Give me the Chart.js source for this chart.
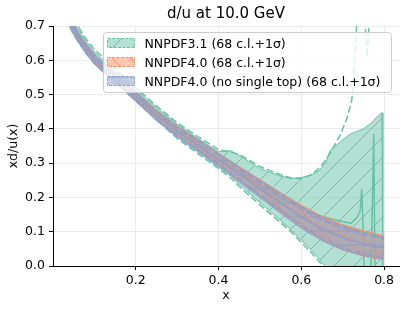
<!DOCTYPE html>
<html>
<head>
<meta charset="utf-8">
<script src="https://cdn.jsdelivr.net/npm/chart.js@4.4.1/dist/chart.umd.min.js"></script>
<style>
  html, body { margin: 0; padding: 0; background: #fff; }
  #wrap { width: 407px; height: 311px; }
</style>
</head>
<body>
<div id="wrap"><canvas id="duChart" width="407" height="311"></canvas></div>
<script>
// valeurs
const chartTitle = "d/u at 10.0 GeV";
const seriesNames = ["NNPDF3.1 (68 c.l.+1σ)", "NNPDF4.0 (68 c.l.+1σ)", "NNPDF4.0 (no single top) (68 c.l.+1σ)"];
const xTicks = [0.2, 0.4, 0.6, 0.8];
const yTicks = [0.0, 0.1, 0.2, 0.3, 0.4, 0.5, 0.6, 0.7];

// grille commune NNPDF4.0
const xGrid = [0.03, 0.04, 0.05, 0.06, 0.08, 0.10, 0.125, 0.15, 0.175, 0.20, 0.25, 0.30, 0.35, 0.40, 0.45, 0.50, 0.55, 0.60, 0.65, 0.70, 0.75, 0.78, 0.80];

const nn40Central = [0.745, 0.718, 0.693, 0.672, 0.636, 0.606, 0.577, 0.551, 0.524, 0.497, 0.442, 0.395, 0.354, 0.312, 0.270, 0.228, 0.186, 0.145, 0.110, 0.084, 0.066, 0.058, 0.053];
const nn40Upper = [0.757, 0.730, 0.705, 0.684, 0.648, 0.618, 0.589, 0.563, 0.536, 0.509, 0.455, 0.409, 0.369, 0.329, 0.290, 0.252, 0.214, 0.177, 0.145, 0.121, 0.103, 0.094, 0.088];
const nn40Lower = [0.733, 0.706, 0.681, 0.660, 0.624, 0.594, 0.565, 0.539, 0.512, 0.485, 0.429, 0.381, 0.339, 0.295, 0.250, 0.204, 0.158, 0.113, 0.075, 0.047, 0.029, 0.022, 0.018];
const nn40SigUp = [0.754, 0.727, 0.702, 0.681, 0.645, 0.615, 0.586, 0.560, 0.533, 0.506, 0.452, 0.406, 0.366, 0.325, 0.286, 0.247, 0.208, 0.170, 0.138, 0.114, 0.096, 0.088, 0.082];
const nn40SigLow = [0.736, 0.709, 0.684, 0.663, 0.627, 0.597, 0.568, 0.542, 0.515, 0.488, 0.432, 0.384, 0.342, 0.299, 0.254, 0.209, 0.164, 0.120, 0.082, 0.054, 0.036, 0.028, 0.024];

const nstCentral = [0.742, 0.715, 0.690, 0.669, 0.633, 0.603, 0.574, 0.548, 0.521, 0.494, 0.439, 0.392, 0.351, 0.309, 0.267, 0.225, 0.183, 0.142, 0.108, 0.082, 0.064, 0.057, 0.054];
const nstUpper = [0.756, 0.729, 0.704, 0.683, 0.647, 0.617, 0.588, 0.562, 0.535, 0.508, 0.454, 0.408, 0.368, 0.328, 0.289, 0.250, 0.212, 0.174, 0.142, 0.117, 0.099, 0.090, 0.085];
const nstLower = [0.728, 0.701, 0.676, 0.655, 0.619, 0.589, 0.560, 0.534, 0.507, 0.480, 0.424, 0.376, 0.334, 0.290, 0.245, 0.200, 0.154, 0.110, 0.074, 0.047, 0.030, 0.024, 0.022];
const nstSigUp = [0.752, 0.725, 0.700, 0.679, 0.643, 0.613, 0.584, 0.558, 0.531, 0.504, 0.450, 0.403, 0.363, 0.322, 0.282, 0.243, 0.204, 0.166, 0.134, 0.110, 0.093, 0.085, 0.081];
const nstSigLow = [0.732, 0.705, 0.680, 0.659, 0.623, 0.593, 0.564, 0.538, 0.511, 0.484, 0.428, 0.381, 0.339, 0.296, 0.252, 0.207, 0.162, 0.118, 0.082, 0.054, 0.035, 0.029, 0.027];

// NNPDF3.1 : bande large
const nn31X = [0.03, 0.05, 0.08, 0.10, 0.15, 0.20, 0.25, 0.30, 0.35, 0.40, 0.43, 0.45, 0.50, 0.55, 0.575, 0.60, 0.625, 0.645, 0.66, 0.67, 0.70, 0.72, 0.75, 0.77, 0.785, 0.795, 0.797];
const nn31Upper = [0.765, 0.712, 0.655, 0.625, 0.570, 0.515, 0.462, 0.414, 0.372, 0.334, 0.336, 0.322, 0.284, 0.262, 0.255, 0.258, 0.266, 0.280, 0.305, 0.338, 0.368, 0.386, 0.400, 0.418, 0.438, 0.447, -0.10];
const nn31Lower = [0.725, 0.678, 0.625, 0.596, 0.541, 0.487, 0.432, 0.377, 0.333, 0.289, 0.262, 0.238, 0.185, 0.132, 0.106, 0.075, 0.045, 0.018, -0.005, -0.02, -0.06, -0.08, -0.10, -0.10, -0.10, -0.10, -0.10];
const nn31SigLow = [0.722, 0.674, 0.620, 0.591, 0.536, 0.482, 0.427, 0.372, 0.328, 0.284, 0.256, 0.232, 0.178, 0.126, 0.100, 0.068, 0.038, 0.010, -0.010, -0.03, -0.07, -0.09, -0.11, -0.11, -0.11, -0.11, -0.11];

const nn31CentralX = [0.03, 0.05, 0.08, 0.10, 0.15, 0.20, 0.25, 0.30, 0.35, 0.40, 0.45, 0.50, 0.55, 0.575, 0.60, 0.62, 0.65, 0.67, 0.72, 0.735, 0.742, 0.746, 0.749, 0.752, 0.768, 0.772, 0.775, 0.778, 0.797];
const nn31Central = [0.745, 0.695, 0.640, 0.610, 0.555, 0.501, 0.447, 0.397, 0.354, 0.313, 0.275, 0.236, 0.198, 0.186, 0.172, 0.158, 0.145, 0.138, 0.124, 0.143, 0.160, 0.225, 0.120, -0.02, -0.02, 0.200, 0.385, -0.02, -0.02];

const nn31SigUpX = [0.03, 0.05, 0.08, 0.10, 0.15, 0.20, 0.25, 0.30, 0.35, 0.40, 0.45, 0.50, 0.55, 0.575, 0.60, 0.62, 0.64, 0.653, 0.67, 0.693, 0.71, 0.722, 0.73, 0.736, 0.744, 0.752, 0.759, 0.766];
const nn31SigUp = [0.775, 0.720, 0.662, 0.632, 0.576, 0.520, 0.467, 0.418, 0.377, 0.340, 0.326, 0.290, 0.266, 0.257, 0.255, 0.264, 0.282, 0.300, 0.330, 0.380, 0.430, 0.484, 0.620, 0.750, null, 0.750, 0.610, 0.750];

const GREEN = "102,194,165";
const ORANGE = "252,141,98";
const BLUE = "141,160,203";

const ctx = document.getElementById("duChart").getContext("2d");

function hatch(kind, rgb, size) {
  const c = document.createElement("canvas");
  c.width = size;
  c.height = size;
  const g = c.getContext("2d");
  g.fillStyle = "rgba(" + rgb + ",0.5)";
  g.fillRect(0, 0, size, size);
  g.strokeStyle = "rgba(" + rgb + ",1)";
  g.lineWidth = 1;
  g.beginPath();
  if (kind === "/") {
    g.moveTo(0, size); g.lineTo(size, 0);
    g.moveTo(-2, 2); g.lineTo(2, -2);
    g.moveTo(size - 2, size + 2); g.lineTo(size + 2, size - 2);
  } else if (kind === "\\") {
    g.moveTo(0, 0); g.lineTo(size, size);
    g.moveTo(size - 2, -2); g.lineTo(size + 2, 2);
    g.moveTo(-2, size - 2); g.lineTo(2, size + 2);
  } else {
    g.moveTo(0, size / 2); g.lineTo(size, size / 2);
  }
  g.stroke();
  return ctx.createPattern(c, "repeat");
}

const greenHatch = hatch("/", GREEN, 20);
const orangeHatch = hatch("\\", ORANGE, 18);
const blueHatch = hatch("-", BLUE, 14);

function pts(xs, ys) {
  return xs.map((x, i) => ({ x: x, y: ys[i] }));
}

function curve(xs, ys, rgb, width, dash, alpha) {
  return {
    data: pts(xs, ys),
    borderColor: "rgba(" + rgb + "," + (alpha || 1) + ")",
    borderWidth: width,
    borderDash: dash || [],
    pointRadius: 0,
    fill: false,
    tension: 0
  };
}

function band(xs, lower, upper, rgb, pattern) {
  const lo = curve(xs, lower, rgb, 1);
  const up = curve(xs, upper, rgb, 1);
  up.fill = "-1";
  up.backgroundColor = pattern;
  return [lo, up];
}

// l'index 0 est dessiné en dernier (au-dessus)
const datasets = [].concat(
  [curve(xGrid, nstCentral, BLUE, 1.5),
   curve(xGrid, nstSigUp, BLUE, 1.5, [7, 3]),
   curve(xGrid, nstSigLow, BLUE, 1.5, [7, 3])],
  band(xGrid, nstLower, nstUpper, BLUE, blueHatch),
  [curve(xGrid, nn40Central, ORANGE, 1.5),
   curve(xGrid, nn40SigUp, ORANGE, 1.5, [7, 3]),
   curve(xGrid, nn40SigLow, ORANGE, 1.5, [7, 3])],
  band(xGrid, nn40Lower, nn40Upper, ORANGE, orangeHatch),
  [curve(nn31CentralX, nn31Central, GREEN, 1.5),
   curve(nn31SigUpX, nn31SigUp, GREEN, 1.5, [7, 3]),
   curve(nn31X, nn31SigLow, GREEN, 1.5, [7, 3])],
  band(nn31X, nn31Lower, nn31Upper, GREEN, greenHatch)
);

const FONT = "'DejaVu Sans', sans-serif";

const titlePlugin = {
  id: "plotTitle",
  afterDraw(chart) {
    const c = chart.ctx;
    const a = chart.chartArea;
    c.save();
    c.font = "15px " + FONT;
    c.fillStyle = "#000";
    c.textAlign = "center";
    c.textBaseline = "alphabetic";
    c.fillText(chartTitle, (a.left + a.right) / 2, 18);
    c.restore();
  }
};

const legendPlugin = {
  id: "innerLegend",
  afterDraw(chart) {
    const c = chart.ctx;
    const x0 = 103.5, y0 = 32.5, w = 288, h = 60, r = 3;
    c.save();
    c.beginPath();
    c.moveTo(x0 + r, y0);
    c.lineTo(x0 + w - r, y0);
    c.arcTo(x0 + w, y0, x0 + w, y0 + r, r);
    c.lineTo(x0 + w, y0 + h - r);
    c.arcTo(x0 + w, y0 + h, x0 + w - r, y0 + h, r);
    c.lineTo(x0 + r, y0 + h);
    c.arcTo(x0, y0 + h, x0, y0 + h - r, r);
    c.lineTo(x0, y0 + r);
    c.arcTo(x0, y0, x0 + r, y0, r);
    c.closePath();
    c.fillStyle = "rgba(255,255,255,0.8)";
    c.fill();
    c.strokeStyle = "#cccccc";
    c.lineWidth = 1;
    c.stroke();

    const entries = [[GREEN, greenHatch], [ORANGE, orangeHatch], [BLUE, blueHatch]];
    entries.forEach((e, i) => {
      const cy = 43 + i * 19;
      c.fillStyle = e[1];
      c.fillRect(107.5, cy - 4.5, 27, 9);
      c.setLineDash([3, 1.5]);
      c.strokeStyle = "rgba(" + e[0] + ",1)";
      c.lineWidth = 1;
      c.strokeRect(107.5, cy - 4.5, 27, 9);
      c.setLineDash([]);
      c.font = "12.5px " + FONT;
      c.fillStyle = "#000";
      c.textAlign = "left";
      c.textBaseline = "alphabetic";
      c.fillText(seriesNames[i], 144.5, cy + 4.6);
    });
    c.restore();
  }
};

new Chart(ctx, {
  type: "line",
  data: { datasets: datasets },
  options: {
    responsive: false,
    animation: false,
    layout: { padding: { top: 26, right: 8, left: 0, bottom: 0 } },
    plugins: {
      legend: { display: false },
      tooltip: { enabled: false }
    },
    scales: {
      x: {
        type: "linear",
        min: 0,
        max: 0.836,
        afterBuildTicks: (s) => { s.ticks = xTicks.map(v => ({ value: v })); },
        afterFit: (s) => { s.height = 45; },
        ticks: {
          font: { family: FONT, size: 12.5 },
          color: "#000",
          padding: 3,
          maxRotation: 0,
          callback: (v) => v.toFixed(1)
        },
        grid: { color: "#ebebeb", tickColor: "#000", tickLength: 4 },
        border: { color: "#000", width: 1 },
        title: { display: true, text: "x", font: { family: FONT, size: 12.5 }, color: "#000", padding: { top: 0, bottom: 8 } }
      },
      y: {
        min: 0,
        max: 0.7,
        afterBuildTicks: (s) => { s.ticks = yTicks.map(v => ({ value: v })); },
        afterFit: (s) => { s.width = 53; },
        ticks: {
          font: { family: FONT, size: 12.5 },
          color: "#000",
          padding: 4,
          callback: (v) => v.toFixed(1)
        },
        grid: { color: "#ebebeb", tickColor: "#000", tickLength: 4 },
        border: { color: "#000", width: 1 },
        title: { display: true, text: "xd/u(x)", font: { family: FONT, size: 12.5 }, color: "#000", padding: { top: 6, bottom: 0 } }
      }
    }
  },
  plugins: [titlePlugin, legendPlugin]
});
</script>
</body>
</html>
